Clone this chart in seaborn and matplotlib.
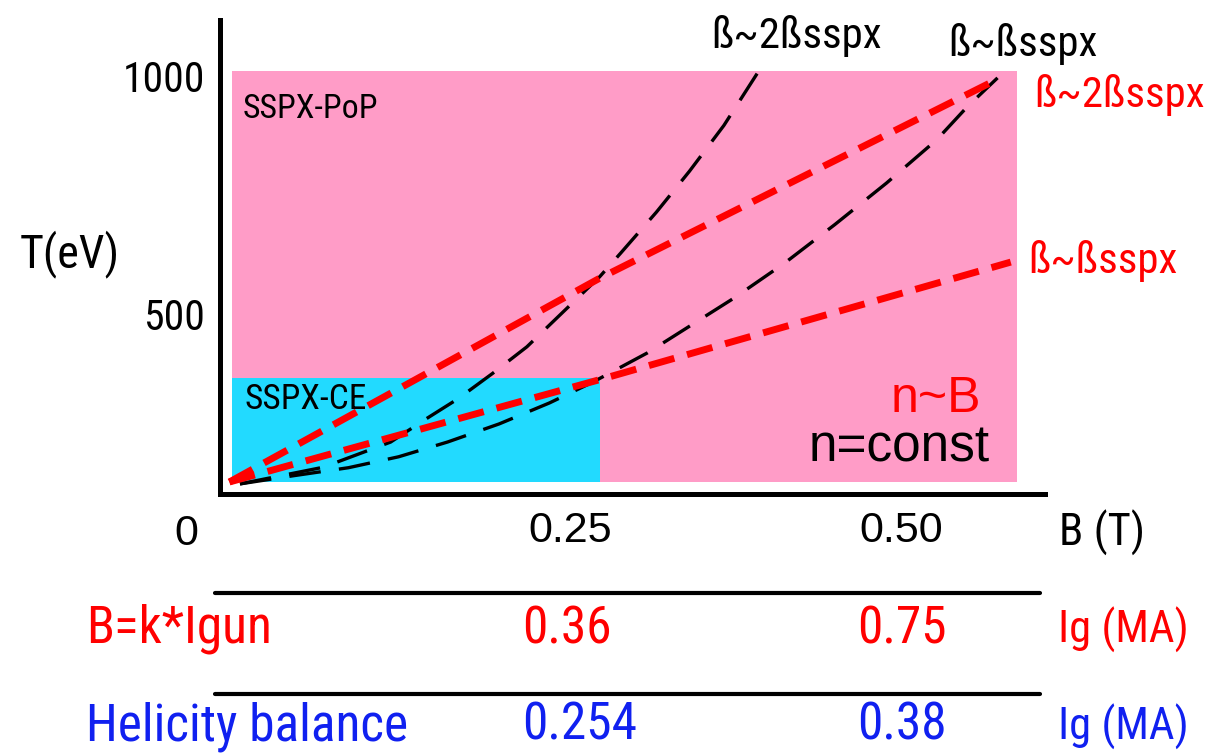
import matplotlib
matplotlib.use("Agg")
import matplotlib.pyplot as plt
from matplotlib import font_manager
from matplotlib.font_manager import FontProperties
from matplotlib.lines import Line2D
import seaborn as sns

# ---------------- data ----------------
# n = const  (T ~ B^2), black dashed
B_const_2beta = [0.000, 0.063, 0.089, 0.114, 0.141, 0.165, 0.191, 0.217, 0.272, 0.288, 0.315, 0.340, 0.366, 0.393]
T_const_2beta = [143, 178, 205, 231, 280, 322, 375, 431, 578, 628, 714, 800, 896, 1013]
B_const_beta = [0.000, 0.040, 0.082, 0.120, 0.157, 0.196, 0.234, 0.267, 0.308, 0.374, 0.412, 0.450, 0.489, 0.527, 0.550, 0.573]
T_const_beta = [143, 160, 177, 200, 231, 269, 313, 357, 418, 534, 607, 688, 775, 866, 935, 996]
# n ~ B  (T ~ B), red dashed
B_nB_2beta = [-0.008, 0.272, 0.575]
T_nB_2beta = [147, 575, 996]
B_nB_beta = [-0.008, 0.272, 0.583]
T_nB_beta = [147, 362, 609]

# operating regions
pop_B = [-0.006, 0.588]
pop_T = [147, 1010]
ce_B = [-0.006, 0.272]
ce_T = [147, 365]

# axis ticks
B_ticks = [0.25, 0.50]
B_tick_labels = ["0.25", "0.50"]
T_ticks = [500, 1000]
T_tick_labels = ["500", "1000"]

# gun current table
row_names = ["B=k*Igun", "Helicity balance"]
row_values = [["0.36", "0.75"], ["0.254", "0.38"]]
row_unit = "Ig (MA)"

# ---------------- style ----------------
sns.set_theme(style="white")
ttf = font_manager.fontManager.ttflist
names = {f.name for f in ttf}
REG = "Liberation Sans" if "Liberation Sans" in names else "DejaVu Sans"
plt.rcParams["font.family"] = [REG, "DejaVu Sans"]
for key in ("text.color", "axes.labelcolor", "xtick.color", "ytick.color"):
    plt.rcParams[key] = "black"


def find_condensed():
    """Pick an installed narrow sans face, best match first."""
    def is_regular(f):
        return f.style == "normal" and f.weight in (400, "normal", "regular", "book")

    preferred = ["Liberation Sans Narrow", "Arial Narrow", "Roboto Condensed",
                 "Open Sans Condensed"]
    for want in preferred:
        for f in ttf:
            if f.name == want and is_regular(f):
                return f.fname
    for fam in ["Noto Sans", "Roboto", "Open Sans", "DejaVu Sans", "Liberation Sans"]:
        for f in ttf:
            low = f.fname.lower()
            if (f.name == fam and is_regular(f) and "condensed" in low
                    and "semi" not in low and "extra" not in low and "ultra" not in low):
                return f.fname
    for f in ttf:
        low = f.fname.lower()
        if ("condensed" in low or "narrow" in low) and is_regular(f) and "mono" not in low:
            return f.fname
    return None


_narrow_file = find_condensed()


def narrow(size):
    if _narrow_file is not None:
        return FontProperties(fname=_narrow_file, size=size)
    # no narrow face installed: shrink the regular face to keep the widths
    return FontProperties(family=REG, size=size * 0.84)


def regular(size):
    return FontProperties(family=REG, size=size)


PINK = "#FF9CC7"
CYAN = "#22DAFF"
RED = "#FF0000"
BLUE = "#1020F0"

W, H = 1205, 753
fig = plt.figure(figsize=(W / 100, H / 100), dpi=100)


def fx(px):
    return px / W


def fy(py):
    return 1 - py / H


ax = fig.add_axes([fx(220), fy(494), fx(1045) - fx(220), fy(20) - fy(494)])
ax.set_xlim(-0.0151, 0.6089)
ax.set_ylim(121.8, 1117.6)

# regions
ax.fill_between(pop_B, [pop_T[0]] * 2, [pop_T[1]] * 2, color=PINK, lw=0, zorder=0)
ax.fill_between(ce_B, [ce_T[0]] * 2, [ce_T[1]] * 2, color=CYAN, lw=0, zorder=0.5)

# scaling curves
black_dash = (0, (9.5, 5.5))
red_dash = (0, (3.8, 1.9))
for xs, ys in [(B_const_2beta, T_const_2beta), (B_const_beta, T_const_beta)]:
    sns.lineplot(x=xs, y=ys, ax=ax, color="black", lw=2.4, sort=False)
    ax.lines[-1].set_linestyle(black_dash)
for xs, ys in [(B_nB_2beta, T_nB_2beta), (B_nB_beta, T_nB_beta)]:
    sns.lineplot(x=xs, y=ys, ax=ax, color=RED, lw=5, sort=False)
    ax.lines[-1].set_linestyle(red_dash)

# axes frame
sns.despine(ax=ax)
for side in ("left", "bottom"):
    ax.spines[side].set_linewidth(3.6)
    ax.spines[side].set_color("black")
ax.grid(False)
ax.set_xlabel("")
ax.set_ylabel("")

ax.set_xticks(B_ticks)
ax.set_xticklabels(B_tick_labels, fontproperties=regular(31), color="black")
ax.set_yticks(T_ticks)
ax.set_yticklabels(T_tick_labels, fontproperties=narrow(30), color="black")
ax.tick_params(axis="x", length=0, pad=12)
ax.tick_params(axis="y", length=0, pad=11)

# axis captions
fig.text(fx(186), fy(545), "0", fontproperties=regular(31), ha="center", va="baseline")
fig.text(fx(1059), fy(546), "B (T)", fontproperties=narrow(32), ha="left", va="baseline")
fig.text(fx(20), fy(267), "T(eV)", fontproperties=narrow(33), ha="left", va="baseline")

# region labels
fig.text(fx(243), fy(118), "SSPX-PoP", fontproperties=narrow(24.5), ha="left", va="baseline")
fig.text(fx(245), fy(409), "SSPX-CE", fontproperties=narrow(25.5), ha="left", va="baseline")

# curve labels
fig.text(fx(711), fy(48), "ß~2ßsspx", fontproperties=narrow(31), ha="left", va="baseline", color="black")
fig.text(fx(948), fy(56), "ß~ßsspx", fontproperties=narrow(31), ha="left", va="baseline", color="black")
fig.text(fx(1034), fy(107), "ß~2ßsspx", fontproperties=narrow(31), ha="left", va="baseline", color=RED)
fig.text(fx(1028), fy(273), "ß~ßsspx", fontproperties=narrow(31), ha="left", va="baseline", color=RED)
fig.text(fx(981), fy(412), "n~B", fontproperties=regular(36), ha="right", va="baseline", color=RED)
fig.text(fx(990), fy(462), "n=const", fontproperties=regular(37), ha="right", va="baseline", color="black")

# gun current table
for py in (593, 694):
    fig.add_artist(Line2D([fx(215), fx(1040)], [fy(py), fy(py)], color="black", lw=3.0))
for name, vals, color, base in zip(row_names, row_values, [RED, BLUE], [643, 740]):
    fig.text(fx(86), fy(base), name, fontproperties=narrow(37), color=color, ha="left", va="baseline")
    fig.text(fx(522), fy(base), vals[0], fontproperties=narrow(37), color=color, ha="left", va="baseline")
    fig.text(fx(857), fy(base), vals[1], fontproperties=narrow(37), color=color, ha="left", va="baseline")
    fig.text(fx(1058), fy(base), row_unit, fontproperties=narrow(32), color=color, ha="left", va="baseline")

fig.savefig("out.png", dpi=100, facecolor="white")
